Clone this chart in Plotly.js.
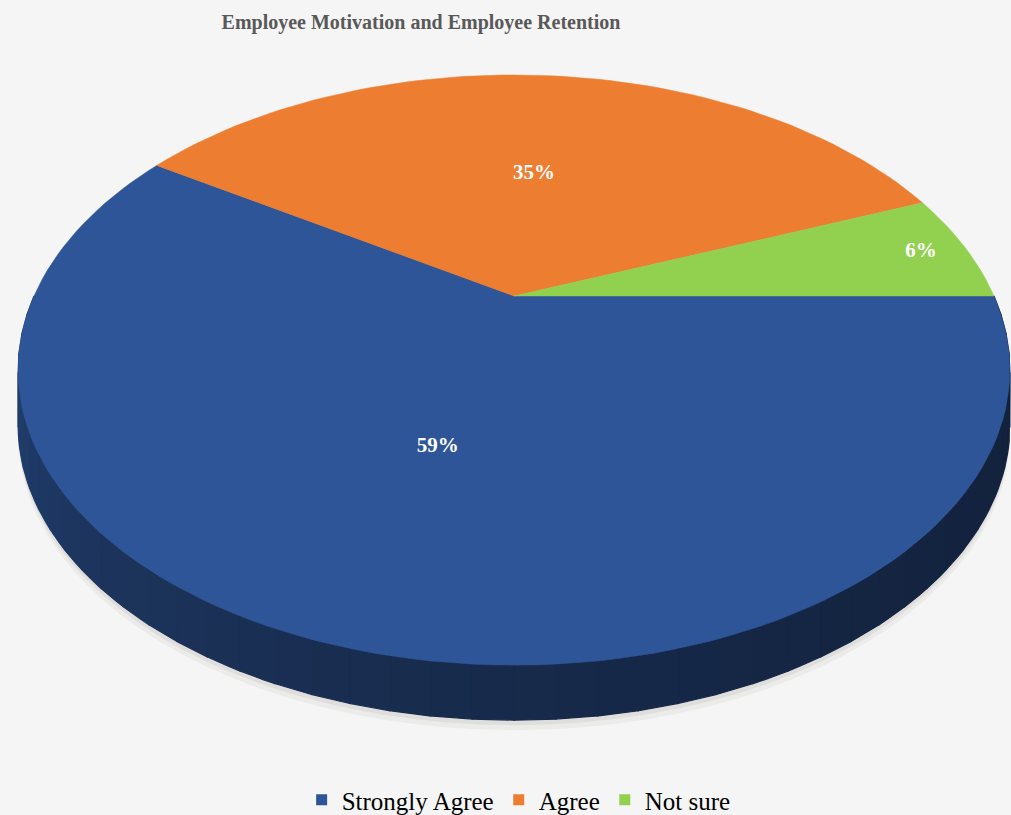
<!DOCTYPE html>
<html><head><meta charset="utf-8">
<script src="https://cdn.plot.ly/plotly-3.0.1.min.js"></script>
<style>html,body{margin:0;padding:0;background:#f5f5f5;} #chart{width:1011px;height:815px;}</style>
</head><body><div id="chart"></div>
<script>
// ---- data ----
const categories = ['Strongly Agree', 'Agree', 'Not sure'];
const values = [59, 35, 6];
const colors = ['#2E5597', '#ED7D31', '#92D050'];
const chartTitle = 'Employee Motivation and Employee Retention';

// ---- geometry of the tilted (3D-look) pie, in pixel space ----
const CX = 514, CY = 296, RA = 480, RB = 276.5, K = 0.251, DEPTH = 55;
const labelR = [0.5, 0.5, 0.9];
const SERIF = 'Liberation Serif, Times New Roman, DejaVu Serif, serif';

function proj(t, r, dy) {
  const X = r * Math.cos(t), Z = r * Math.sin(t);
  const d = 1 + K * Z;
  return [CX + RA * X / d, CY - RB * Z / d + (dy || 0)];
}
function arc(t0, t1, r, dy, n) {
  const xs = [], ys = [];
  for (let i = 0; i <= n; i++) {
    const t = t0 + (t1 - t0) * i / n;
    const p = proj(t, r, dy);
    xs.push(p[0]); ys.push(p[1]);
  }
  return [xs, ys];
}
function hexRgb(h) { return [1, 3, 5].map(i => parseInt(h.substr(i, 2), 16)); }
function shade(h, f) { const c = hexRgb(h); return 'rgb(' + c.map(v => Math.round(v * f)).join(',') + ')'; }

const total = values.reduce((a, b) => a + b, 0);
// slice angle ranges: clockwise from 3 o'clock
const ranges = [];
let start = 2 * Math.PI;
values.forEach(v => { const end = start - 2 * Math.PI * v / total; ranges.push([start, end]); start = end; });
function sliceAt(t) {
  for (let i = 0; i < ranges.length; i++) {
    const hi = ranges[i][0], lo = ranges[i][1];
    if (t <= hi && t >= lo) return i;
  }
  return 0;
}

const traces = [];
// soft shadow
[[DEPTH + 10, 'rgba(120,110,100,0.07)'], [DEPTH + 5, 'rgba(120,110,100,0.10)']].forEach(s => {
  const e = arc(0, 2 * Math.PI, 1.0, s[0], 120);
  traces.push({type: 'scatter', x: e[0], y: e[1], fill: 'toself', mode: 'none', fillcolor: s[1], showlegend: false, hoverinfo: 'skip'});
});
// side wall (front half)
const NSEG = 48;
for (let i = 0; i < NSEG; i++) {
  const t0 = Math.PI + Math.PI * i / NSEG, t1 = Math.PI + Math.PI * (i + 1) / NSEG;
  const tm = (t0 + t1) / 2;
  const si = sliceAt(tm);
  const f = i / (NSEG - 1);
  const fac = 0.40 + 0.38 * Math.pow(1 - f, 2);
  const c = shade(colors[si], fac);
  const top = arc(t0, t1, 1, 0, 3), bot = arc(t1, t0, 1, DEPTH, 3);
  const xs = top[0].concat(bot[0]); xs.push(top[0][0]);
  const ys = top[1].concat(bot[1]); ys.push(top[1][0]);
  traces.push({type: 'scatter', x: xs, y: ys, fill: 'toself', mode: 'lines', line: {color: c, width: 1.2}, fillcolor: c, showlegend: false, hoverinfo: 'skip'});
}
// top faces
const lx = [], ly = [], lt = [];
values.forEach((v, i) => {
  const [a0, a1] = ranges[i];
  const n = Math.max(4, Math.round(200 * v / total));
  const e = arc(a0, a1, 1, 0, n);
  const xs = [CX].concat(e[0], [CX]);
  const ys = [CY].concat(e[1], [CY]);
  traces.push({type: 'scatter', x: xs, y: ys, fill: 'toself', mode: 'lines', line: {color: colors[i], width: 0.5}, fillcolor: colors[i], showlegend: false, name: categories[i], hoverinfo: 'name'});
  const p = proj((a0 + a1) / 2, labelR[i], 0);
  lx.push(p[0]); ly.push(p[1]); lt.push(Math.round(v / total * 100) + '%');
});
traces.push({type: 'scatter', x: lx, y: ly, text: lt, mode: 'text', textposition: 'middle center',
  textfont: {family: SERIF, size: 21, color: '#ffffff', weight: 'bold'}, showlegend: false, hoverinfo: 'skip'});
// legend entries
categories.forEach((c, i) => {
  traces.push({type: 'scatter', x: [null], y: [null], mode: 'markers', name: c,
    marker: {symbol: 'square', size: 11, color: colors[i]}, showlegend: true});
});

const layout = {
  width: 1011, height: 815,
  margin: {l: 0, r: 0, t: 0, b: 0, autoexpand: false},
  paper_bgcolor: '#f5f5f5', plot_bgcolor: '#f5f5f5',
  xaxis: {range: [0, 1011], visible: false, fixedrange: true},
  yaxis: {range: [815, 0], visible: false, fixedrange: true},
  title: {text: '<b>' + chartTitle + '</b>', x: 421 / 1011, xanchor: 'center', xref: 'container',
    y: 1 - 22 / 815, yanchor: 'middle', yref: 'container',
    font: {family: SERIF, size: 20, color: '#595959'}},
  showlegend: true,
  legend: {orientation: 'h', x: 0.513, xanchor: 'center', y: 1 - 800 / 815, yanchor: 'middle',
    font: {family: SERIF, size: 25, color: '#000000'}, bgcolor: 'rgba(0,0,0,0)',
    itemwidth: 30, traceorder: 'normal'}
};
Plotly.newPlot('chart', traces, layout, {displayModeBar: false, staticPlot: true});
</script>
</body></html>
